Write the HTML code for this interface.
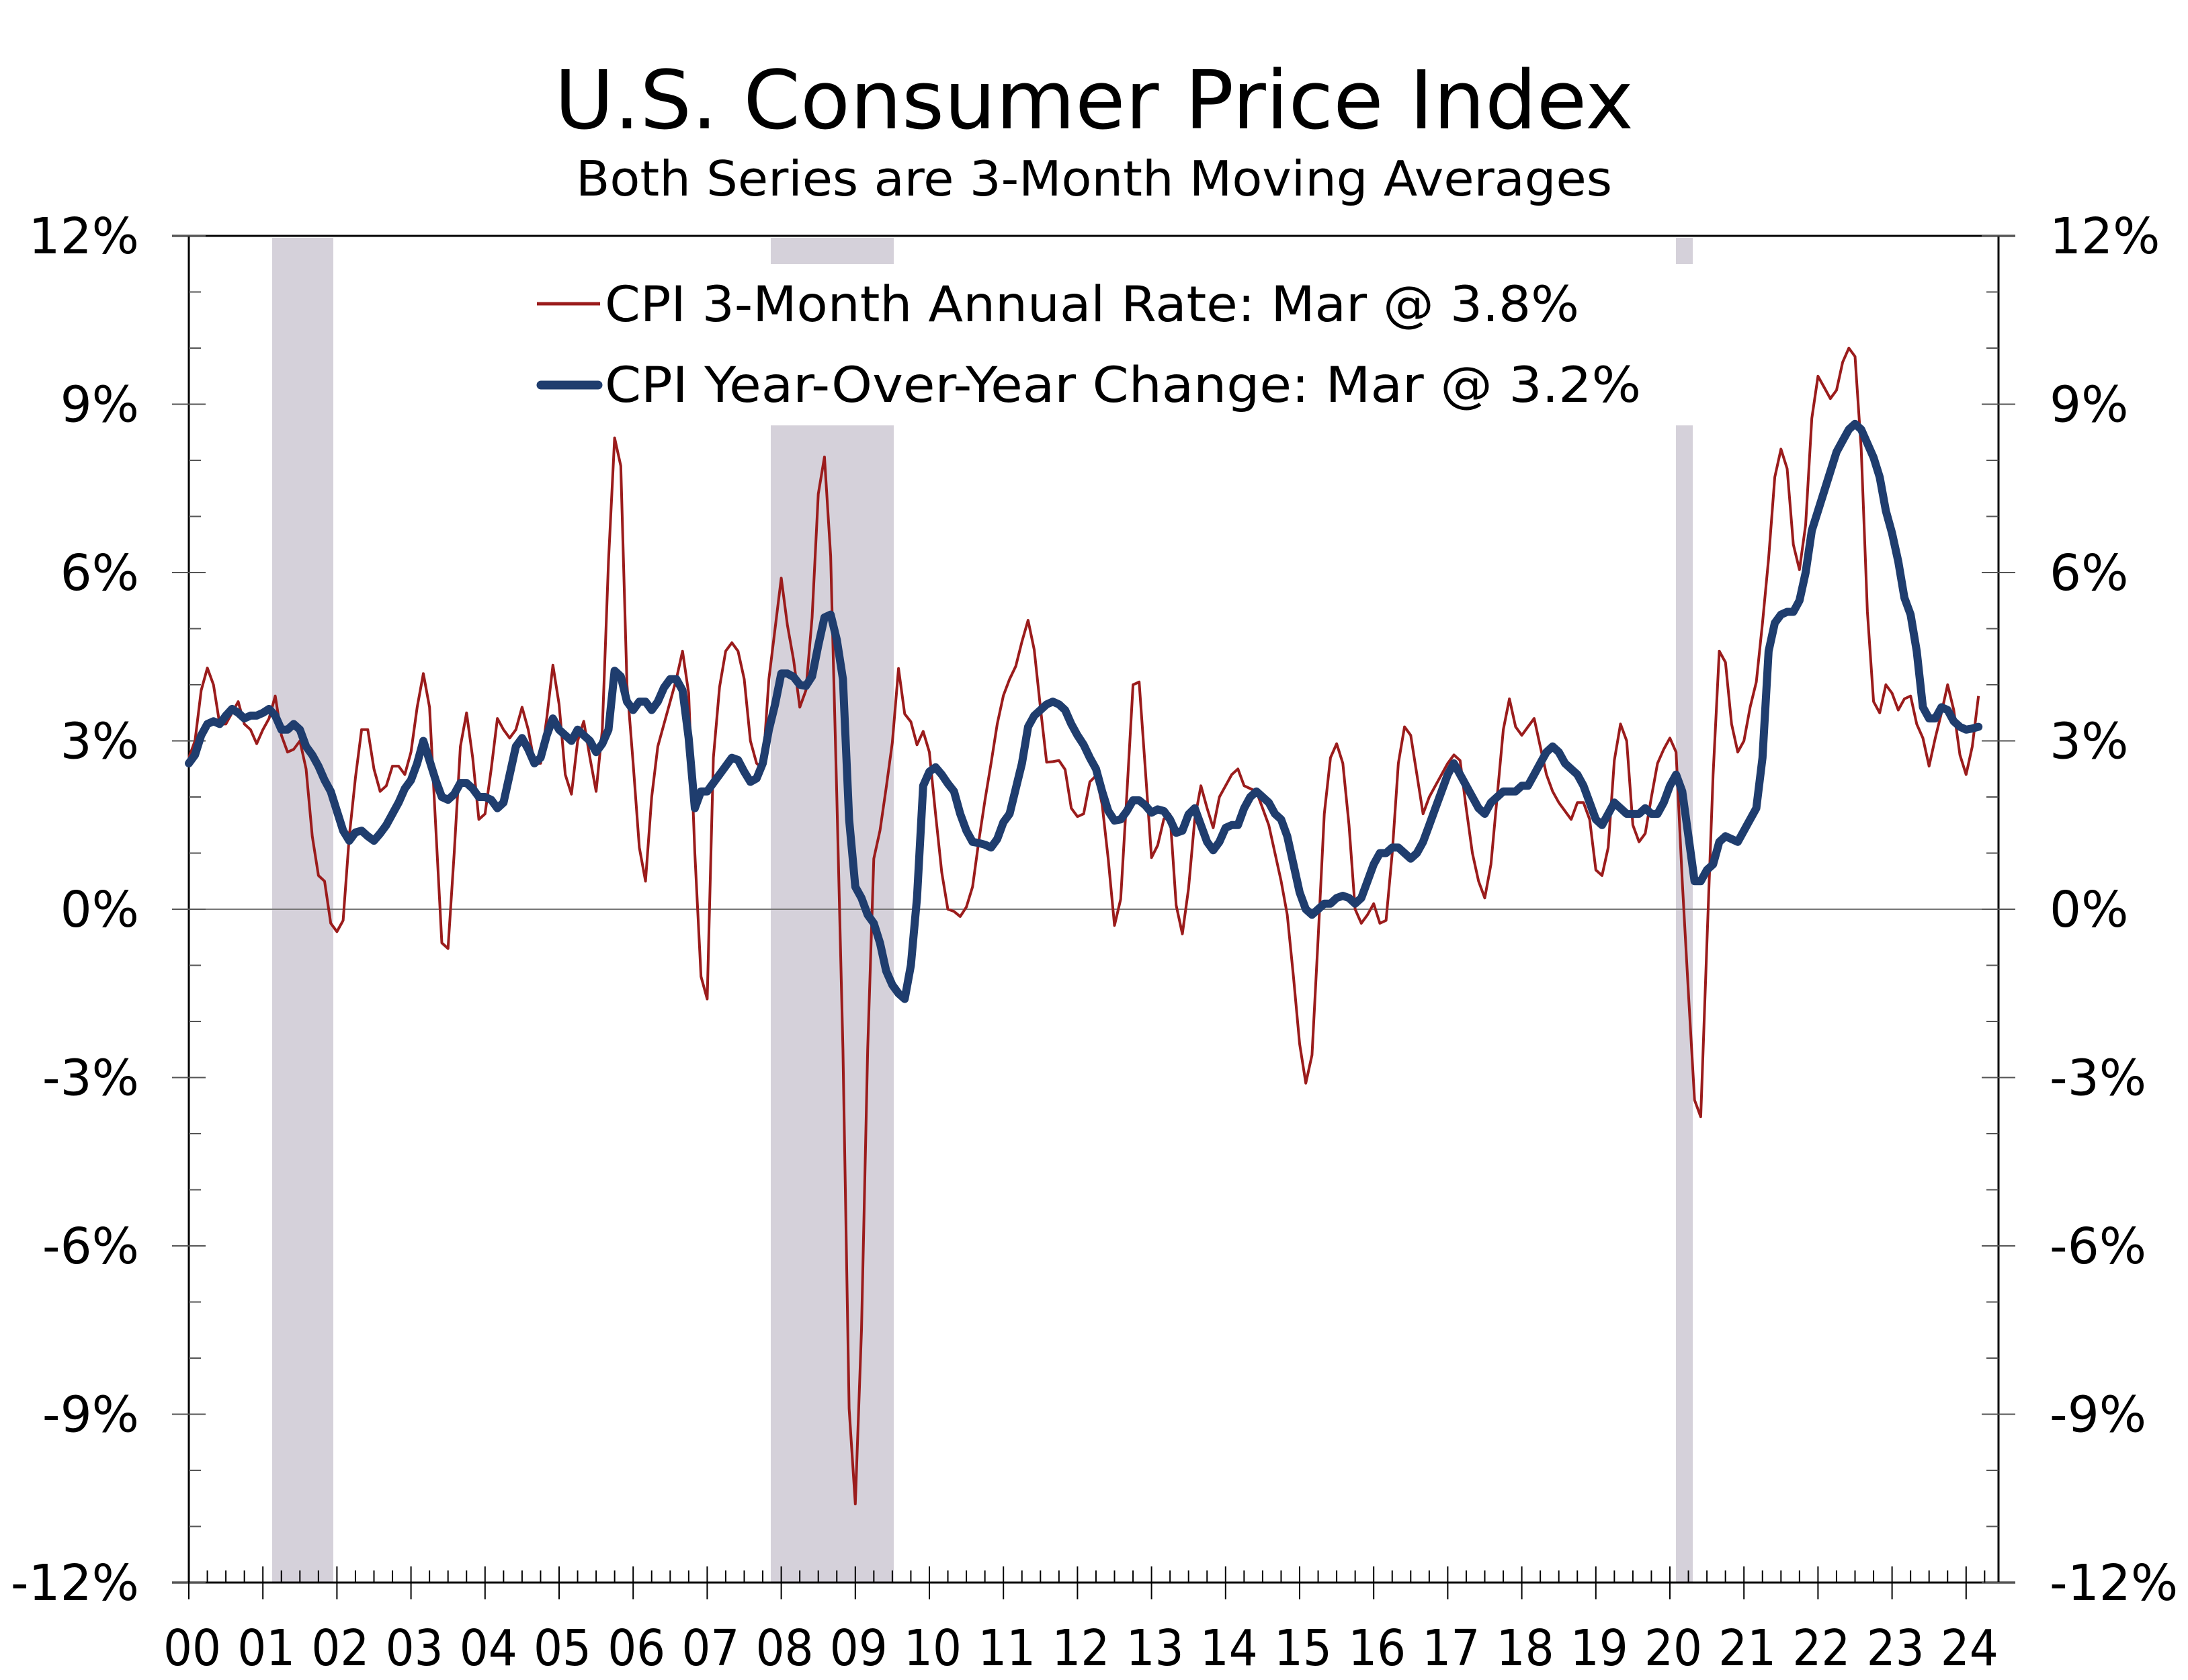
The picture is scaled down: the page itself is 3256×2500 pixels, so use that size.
<!DOCTYPE html>
<html><head><meta charset="utf-8"><style>
html,body{margin:0;padding:0;background:#fff}
svg{display:block}
text{font-family:"DejaVu Sans","Liberation Sans",sans-serif;fill:#000}
</style></head><body>
<svg id="c" width="3256" height="2500" viewBox="0 0 3256 2500" xmlns="http://www.w3.org/2000/svg">
<text x="1628" y="191" font-size="120" text-anchor="middle" textLength="1606" lengthAdjust="spacingAndGlyphs">U.S. Consumer Price Index</text>
<text x="1628" y="291" font-size="72" text-anchor="middle" textLength="1542" lengthAdjust="spacingAndGlyphs">Both Series are 3-Month Moving Averages</text>
<g id="rec" fill="#d5d1da"></g>
<g id="axes"></g>
<g id="series"></g>
<g>
<line x1="799" y1="452" x2="893" y2="452" stroke="#9b1c1c" stroke-width="5"/>
<text x="900" y="478" font-size="73" textLength="1450" lengthAdjust="spacingAndGlyphs">CPI 3-Month Annual Rate: Mar @ 3.8%</text>
<line x1="805" y1="573" x2="890" y2="573" stroke="#1f3d6e" stroke-width="13" stroke-linecap="round"/>
<text x="900" y="598" font-size="73" textLength="1542" lengthAdjust="spacingAndGlyphs">CPI Year-Over-Year Change: Mar @ 3.2%</text>
</g>
</svg>
<script>
var NS="http://www.w3.org/2000/svg";
function el(p,t,a,txt){var e=document.createElementNS(NS,t);for(var k in a)e.setAttribute(k,a[k]);if(txt!==undefined)e.textContent=txt;document.getElementById(p).appendChild(e);return e;}
var L=281,R=2974,T=351,PP=83.5;
function Y(v){return T+(12-v)*PP;}
var B=Y(-12);
var YW=110.2;
function X(m){return L+YW*m/12;}
[[405,496,false],[1147,1330,true],[2494,2519,true]].forEach(function(r){
 if(r[2]){el("rec","rect",{x:r[0],y:T+3,width:r[1]-r[0],height:393-T-3});el("rec","rect",{x:r[0],y:633,width:r[1]-r[0],height:B-633});}
 else el("rec","rect",{x:r[0],y:T+3,width:r[1]-r[0],height:B-T-3});
});
el("axes","line",{x1:L,y1:Y(0),x2:R,y2:Y(0),stroke:"#777","stroke-width":2});
el("axes","line",{x1:L-25,y1:T,x2:R+25,y2:T,stroke:"#000","stroke-width":3});
el("axes","line",{x1:L-25,y1:B,x2:R+25,y2:B,stroke:"#000","stroke-width":3});
el("axes","line",{x1:L,y1:T,x2:L,y2:B,stroke:"#000","stroke-width":3});
el("axes","line",{x1:R,y1:T,x2:R,y2:B,stroke:"#000","stroke-width":3});
for(var v=-12;v<=12;v++){
 var y=Y(v);
 if(v%3==0){
  el("axes","line",{x1:L-25,y1:y,x2:L+25,y2:y,stroke:"#555","stroke-width":2});
  el("axes","line",{x1:R-25,y1:y,x2:R+25,y2:y,stroke:"#555","stroke-width":2});
  var s=v+"%";
  el("axes","text",{x:207,y:y+26,"font-size":74,"text-anchor":"end"},s);
  el("axes","text",{x:3050,y:y+26,"font-size":74},s);
 } else {
  el("axes","line",{x1:L,y1:y,x2:L+18,y2:y,stroke:"#555","stroke-width":2});
  el("axes","line",{x1:R-18,y1:y,x2:R,y2:y,stroke:"#555","stroke-width":2});
 }
}
for(var q=0;q<=24*4+1;q++){
 var x=L+YW*q/4; if(x>R)break;
 if(q%4==0) el("axes","line",{x1:x,y1:B-24,x2:x,y2:B+25,stroke:"#000","stroke-width":2});
 else el("axes","line",{x1:x,y1:B-18,x2:x,y2:B,stroke:"#000","stroke-width":2});
}
for(var yr=0;yr<=24;yr++){
 var lab=(yr<10?"0":"")+yr;
 el("axes","text",{x:L+YW*yr+5,y:2478,"font-size":74,"text-anchor":"middle",textLength:86,lengthAdjust:"spacingAndGlyphs"},lab);
}
var blue=[
2.6,2.75,3.1,3.3,3.35,3.3,3.45,3.57,3.5,3.4,3.45,3.45,
3.5,3.57,3.45,3.2,3.2,3.3,3.2,2.9,2.75,2.55,2.3,2.1,
1.75,1.4,1.22,1.37,1.4,1.3,1.22,1.35,1.5,1.7,1.9,2.15,
2.3,2.6,3.0,2.65,2.3,2.0,1.95,2.05,2.25,2.25,2.15,2.0,
2.0,1.95,1.8,1.9,2.4,2.9,3.05,2.85,2.6,2.7,3.1,3.4,
3.2,3.1,3.0,3.2,3.1,3.0,2.8,2.95,3.2,4.25,4.15,3.7,
3.55,3.7,3.7,3.55,3.7,3.95,4.1,4.1,3.9,3.05,1.8,2.1,
2.1,2.25,2.4,2.55,2.7,2.66,2.45,2.27,2.33,2.6,3.2,3.65,
4.2,4.2,4.14,4.0,3.98,4.15,4.7,5.2,5.25,4.8,4.1,1.6,
0.4,0.2,-0.1,-0.25,-0.6,-1.1,-1.35,-1.5,-1.6,-1.0,0.2,2.2,
2.45,2.53,2.4,2.24,2.1,1.7,1.4,1.2,1.18,1.15,1.1,1.25,
1.55,1.7,2.15,2.6,3.25,3.45,3.55,3.65,3.7,3.65,3.55,3.3,
3.1,2.93,2.7,2.5,2.1,1.75,1.58,1.6,1.75,1.94,1.94,1.85,
1.72,1.78,1.75,1.6,1.36,1.4,1.69,1.8,1.5,1.2,1.05,1.2,
1.45,1.5,1.5,1.8,2.0,2.1,2.0,1.9,1.7,1.6,1.3,0.8,
0.3,0.0,-0.1,0.0,0.1,0.1,0.2,0.24,0.2,0.1,0.2,0.5,
0.8,1.0,1.0,1.1,1.1,1.0,0.9,1.0,1.2,1.5,1.8,2.1,
2.4,2.6,2.4,2.2,2.0,1.8,1.7,1.9,2.0,2.1,2.1,2.1,
2.2,2.2,2.4,2.6,2.8,2.9,2.8,2.6,2.5,2.4,2.2,1.9,
1.6,1.5,1.7,1.9,1.8,1.7,1.7,1.7,1.8,1.7,1.7,1.9,
2.2,2.4,2.1,1.3,0.5,0.5,0.7,0.8,1.2,1.3,1.25,1.2,
1.4,1.6,1.8,2.7,4.6,5.1,5.25,5.3,5.3,5.5,6.0,6.75,
7.1,7.45,7.8,8.15,8.35,8.55,8.65,8.55,8.3,8.05,7.7,7.1,
6.7,6.2,5.55,5.25,4.6,3.6,3.4,3.4,3.6,3.55,3.35,3.25,
3.2,3.22,3.25];
var red=[
2.7,3.0,3.9,4.3,4.0,3.3,3.3,3.5,3.7,3.3,3.2,2.95,
3.2,3.4,3.8,3.1,2.8,2.85,3.0,2.5,1.3,0.6,0.5,-0.25,
-0.4,-0.2,1.3,2.35,3.2,3.2,2.5,2.1,2.2,2.55,2.55,2.4,
2.8,3.6,4.2,3.6,1.5,-0.6,-0.7,1.0,2.9,3.5,2.7,1.6,
1.7,2.5,3.4,3.2,3.05,3.2,3.6,3.2,2.6,2.6,3.4,4.35,
3.65,2.4,2.05,3.0,3.35,2.7,2.1,3.2,6.2,8.4,7.9,4.0,
2.6,1.1,0.5,2.0,2.9,3.3,3.7,4.1,4.6,3.85,1.0,-1.2,
-1.6,2.7,3.96,4.6,4.75,4.6,4.1,3.0,2.6,2.5,4.1,5.0,
5.9,5.06,4.44,3.6,3.9,5.2,7.4,8.06,6.3,2.0,-2.5,-8.9,
-10.6,-7.5,-2.5,0.9,1.4,2.16,2.97,4.29,3.48,3.34,2.93,3.17,
2.8,1.7,0.66,0.0,-0.04,-0.13,0.04,0.4,1.21,1.94,2.6,3.3,
3.81,4.1,4.33,4.77,5.15,4.62,3.59,2.62,2.63,2.65,2.49,1.8,
1.65,1.7,2.27,2.38,1.87,0.88,-0.29,0.18,2.05,4.0,4.05,2.49,
0.92,1.14,1.61,1.69,0.07,-0.44,0.37,1.6,2.2,1.8,1.45,2.0,
2.2,2.4,2.5,2.2,2.15,2.1,1.8,1.5,1.0,0.5,-0.1,-1.2,
-2.4,-3.1,-2.6,-0.5,1.7,2.7,2.95,2.6,1.5,0.0,-0.25,-0.1,
0.1,-0.25,-0.2,1.0,2.6,3.25,3.1,2.4,1.7,2.0,2.2,2.4,
2.6,2.75,2.65,1.8,1.0,0.5,0.2,0.8,2.0,3.2,3.75,3.25,
3.1,3.25,3.4,2.9,2.4,2.1,1.9,1.75,1.6,1.9,1.9,1.6,
0.7,0.6,1.1,2.65,3.3,3.0,1.5,1.2,1.35,2.0,2.6,2.85,
3.05,2.8,0.5,-1.5,-3.4,-3.7,-0.6,2.4,4.6,4.4,3.3,2.8,
3.0,3.6,4.05,5.1,6.25,7.7,8.2,7.85,6.5,6.05,6.85,8.75,
9.5,9.3,9.1,9.25,9.75,10.0,9.85,8.2,5.3,3.7,3.5,4.0,
3.85,3.55,3.75,3.8,3.3,3.05,2.55,3.05,3.5,4.0,3.55,2.75,
2.4,2.9,3.8];
function pts(a){return a.map(function(v,i){return X(i).toFixed(1)+","+Y(v).toFixed(1);}).join(" ");}
el("series","polyline",{points:pts(red),fill:"none",stroke:"#9b1c1c","stroke-width":4,"stroke-linejoin":"round"});
el("series","polyline",{points:pts(blue),fill:"none",stroke:"#1f3d6e","stroke-width":12,"stroke-linejoin":"round","stroke-linecap":"round"});
</script>
</body></html>
